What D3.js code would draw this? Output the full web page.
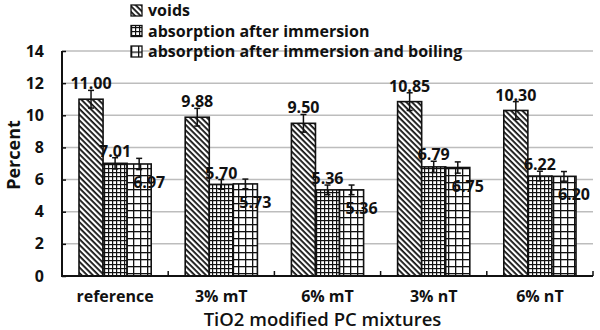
<!DOCTYPE html>
<html>
<head>
<meta charset="utf-8">
<script src="https://cdn.jsdelivr.net/npm/d3@7"></script>
<style>
  body { margin: 0; background: #fff; }
  svg text { font-family: "Open Sans", Lato, sans-serif; font-weight: bold; fill: #111; }
</style>
</head>
<body>
<div id="chart"></div>
<script>
// mixtures and measured values (percent)
var mixtures = ["reference", "3% mT", "6% mT", "3% nT", "6% nT"];
var seriesNames = ["voids", "absorption after immersion", "absorption after immersion and boiling"];
var voids = [11.00, 9.88, 9.50, 10.85, 10.30];
var absorption = [7.01, 5.70, 5.36, 6.79, 6.22];
var absorptionBoiling = [6.97, 5.73, 5.36, 6.75, 6.20];
// error bar half widths
var voidsErr = [0.55, 0.55, 0.55, 0.55, 0.55];
var absorptionErr = [0.35, 0.3, 0.3, 0.35, 0.3];
var boilingErr = [0.35, 0.3, 0.3, 0.35, 0.3];
var yTicks = [0, 2, 4, 6, 8, 10, 12, 14];

var series = [
  {name: seriesNames[0], values: voids, err: voidsErr, fill: "url(#diag)"},
  {name: seriesNames[1], values: absorption, err: absorptionErr, fill: "url(#fineGrid)"},
  {name: seriesNames[2], values: absorptionBoiling, err: boilingErr, fill: "url(#wideGrid)"}
];

var width = 600, height = 330;
var plotLeft = 62, plotRight = 593, plotTop = 51, plotBottom = 276;

var svg = d3.select("#chart").append("svg")
  .attr("width", width)
  .attr("height", height);

// hatch patterns for the three series
var defs = svg.append("defs");
var diag = defs.append("pattern").attr("id", "diag")
  .attr("patternUnits", "userSpaceOnUse").attr("width", 4).attr("height", 4)
  .attr("patternTransform", "rotate(45)");
diag.append("rect").attr("width", 4).attr("height", 4).attr("fill", "#fff");
diag.append("rect").attr("width", 4).attr("height", 1.8).attr("fill", "#111");

var fine = defs.append("pattern").attr("id", "fineGrid")
  .attr("patternUnits", "userSpaceOnUse").attr("width", 4).attr("height", 4);
fine.append("rect").attr("width", 4).attr("height", 4).attr("fill", "#fff");
fine.append("rect").attr("width", 4).attr("height", 1.2).attr("fill", "#111");
fine.append("rect").attr("width", 1.2).attr("height", 4).attr("fill", "#111");

var wide = defs.append("pattern").attr("id", "wideGrid")
  .attr("patternUnits", "userSpaceOnUse").attr("width", 7).attr("height", 7);
wide.append("rect").attr("width", 7).attr("height", 7).attr("fill", "#fff");
wide.append("rect").attr("width", 7).attr("height", 1.3).attr("fill", "#111");
wide.append("rect").attr("width", 1.3).attr("height", 7).attr("fill", "#111");

var y = d3.scaleLinear().domain([0, 14]).range([plotBottom, plotTop]);
var x = d3.scaleBand().domain(mixtures).range([plotLeft, plotRight]).padding(0);
var xs = d3.scaleBand().domain(d3.range(series.length))
  .range([17, x.bandwidth() - 17]).padding(0);

// gridlines
svg.append("g").selectAll("line")
  .data(yTicks.filter(function(d){ return d > 0; }))
  .enter().append("line")
  .attr("x1", plotLeft).attr("x2", plotRight)
  .attr("y1", function(d){ return y(d); })
  .attr("y2", function(d){ return y(d); })
  .attr("stroke", "#bdbdbd").attr("stroke-width", 1.5);

// y axis with inward ticks
var yAxis = svg.append("g")
  .attr("transform", "translate(" + plotLeft + ",0)")
  .call(d3.axisRight(y).tickValues(yTicks).tickSize(4).tickFormat(""));
yAxis.select(".domain").remove();
yAxis.selectAll("line").attr("stroke", "#111").attr("stroke-width", 1.5);
svg.append("line").attr("x1", plotLeft).attr("x2", plotLeft).attr("y1", plotTop).attr("y2", plotBottom)
  .attr("stroke", "#111").attr("stroke-width", 2);

svg.append("g").selectAll("text")
  .data(yTicks).enter().append("text")
  .attr("x", 44).attr("y", function(d){ return y(d); })
  .attr("dy", "0.35em")
  .attr("text-anchor", "end")
  .style("font-size", "16px")
  .text(function(d){ return d; });

// bars
var groups = svg.append("g").selectAll("g")
  .data(series).enter().append("g");

groups.selectAll("rect")
  .data(function(s, i){ return s.values.map(function(v, j){ return {v: v, e: s.err[j], cat: mixtures[j], si: i, fill: s.fill}; }); })
  .enter().append("rect")
  .attr("x", function(d){ return x(d.cat) + xs(d.si); })
  .attr("y", function(d){ return y(d.v); })
  .attr("width", xs.bandwidth())
  .attr("height", function(d){ return y(0) - y(d.v); })
  .attr("fill", function(d){ return d.fill; })
  .attr("stroke", "#111").attr("stroke-width", 1.6);

// error bars
var errs = groups.selectAll("g.err")
  .data(function(s, i){ return s.values.map(function(v, j){ return {v: v, e: s.err[j], cat: mixtures[j], si: i}; }); })
  .enter().append("g").attr("class", "err")
  .attr("transform", function(d){ return "translate(" + (x(d.cat) + xs(d.si) + xs.bandwidth() / 2) + ",0)"; });
errs.append("line")
  .attr("y1", function(d){ return y(d.v + d.e); })
  .attr("y2", function(d){ return y(d.v - d.e); })
  .attr("stroke", "#111").attr("stroke-width", 1.5);
errs.selectAll("line.cap")
  .data(function(d){ return [d.v + d.e, d.v - d.e]; })
  .enter().append("line").attr("class", "cap")
  .attr("x1", -3).attr("x2", 3)
  .attr("y1", function(d){ return y(d); })
  .attr("y2", function(d){ return y(d); })
  .attr("stroke", "#111").attr("stroke-width", 1.5);

// value labels: first two series above the error bar, third one below the bar top
errs.append("text")
  .attr("x", function(d){ return d.si === 2 ? 10 : 0; })
  .attr("y", function(d){ return d.si === 2 ? y(d.v) + 24 : y(d.v + d.e) - 1; })
  .attr("text-anchor", "middle")
  .style("font-size", "16px")
  .text(function(d){ return d.v.toFixed(2); });

// x axis
svg.append("line").attr("x1", plotLeft - 1).attr("x2", plotRight).attr("y1", plotBottom).attr("y2", plotBottom)
  .attr("stroke", "#111").attr("stroke-width", 2);
svg.append("g").selectAll("line")
  .data(mixtures).enter().append("line")
  .attr("x1", function(d){ return x(d) + x.bandwidth(); })
  .attr("x2", function(d){ return x(d) + x.bandwidth(); })
  .attr("y1", plotBottom).attr("y2", plotBottom - 5)
  .attr("stroke", "#111").attr("stroke-width", 1.5);

svg.append("g").selectAll("text")
  .data(mixtures).enter().append("text")
  .attr("x", function(d){ return x(d) + x.bandwidth() / 2; })
  .attr("y", 302)
  .attr("text-anchor", "middle")
  .style("font-size", "16px")
  .text(function(d){ return d; });

svg.append("text")
  .attr("x", (plotLeft + plotRight) / 2 - 5).attr("y", 326)
  .attr("text-anchor", "middle")
  .style("font-size", "18.5px")
  .style("font-weight", "600")
  .text("TiO2 modified PC mixtures");

svg.append("text")
  .attr("transform", "translate(20,155) rotate(-90)")
  .attr("text-anchor", "middle")
  .style("font-size", "18px")
  .text("Percent");

// legend
var legend = svg.append("g").selectAll("g")
  .data(series).enter().append("g")
  .attr("transform", function(d, i){ return "translate(131," + (10.5 + i * 20.5) + ")"; });
legend.append("rect")
  .attr("x", 0).attr("y", -5.5).attr("width", 11).attr("height", 11)
  .attr("fill", function(d){ return d.fill; })
  .attr("stroke", "#111").attr("stroke-width", 1.3);
legend.append("text")
  .attr("x", 17).attr("dy", "0.35em")
  .style("font-size", "16px")
  .text(function(d){ return d.name; });
</script>
</body>
</html>
